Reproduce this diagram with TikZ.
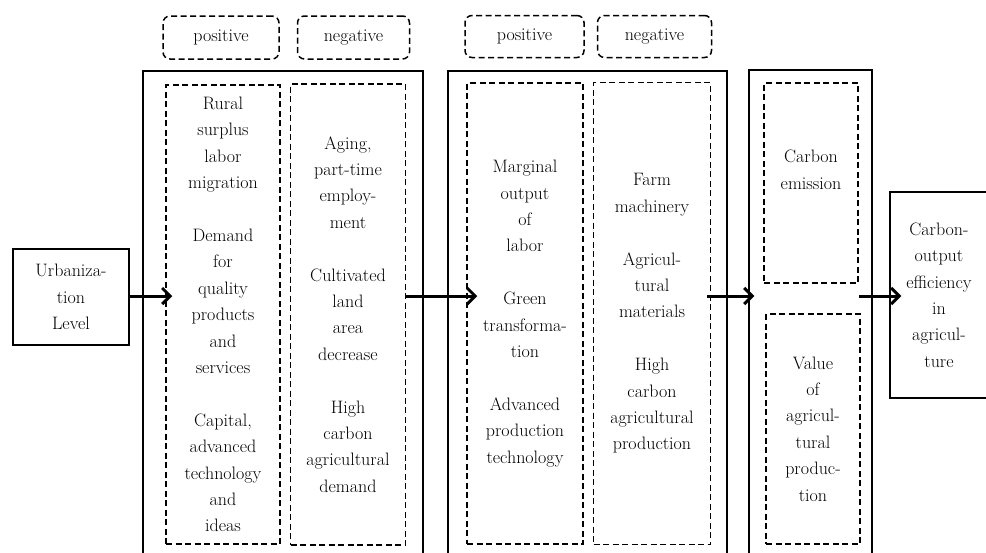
\documentclass[tikz,border=0pt]{standalone}
\usepackage{tikz}
\usetikzlibrary{positioning}
\usetikzlibrary{arrows.meta}

\begin{document}
\begin{tikzpicture}[x=1pt,y=-1pt,>={Straight Barb[length=8pt,width=16pt]},
                    node distance=10pt,
                    main node/.style={rectangle,draw,line width=1.5pt,inner sep=0pt,align=center,font=\fontsize{18}{26.4}\selectfont},
                    dash node/.style={main node,line width=1.5pt,dash pattern=on 6pt off 3.5pt},
                    tag node/.style={dash node,rounded corners=7pt},
                    link/.style={->,line width=3pt}]
      \path[use as bounding box] (0,0) rectangle (986,552);
      \clip (0,0) rectangle (986,552);
      \coordinate (mid) at (0,296);

      \node[main node,minimum width=116pt,minimum height=96pt] (1) at (71,297) {Urbaniza-\\tion\\Level};

      % first block
      \node[main node,minimum width=280pt,minimum height=529pt] (2) at (283,335.5) {};
      \node[dash node,minimum width=114pt,minimum height=459pt] (3) at (223,314.5)
        {Rural\\surplus\\labor\\migration\\[26.4pt]Demand\\for\\quality\\products\\and\\services\\[26.4pt]Capital,\\advanced\\technology\\and\\ideas};
      \node[dash node,minimum width=115pt,minimum height=461pt] (4) [right=9pt of 3]
        {Aging,\\part-time\\employ-\\ment\\[26.4pt]Cultivated\\land\\area\\decrease\\[26.4pt]High\\carbon\\agricultural\\demand};
      \node[tag node,minimum width=116pt,minimum height=43pt] (5) at (221,37.5) {positive};
      \node[tag node,minimum width=112pt,minimum height=43pt] (6) [right=17pt of 5] {negative};

      % second block
      \node[main node,minimum width=279pt,minimum height=529pt] (7) at (587.5,335.5) {};
      \node[dash node,minimum width=116pt,minimum height=461pt] (8) at (525,313.5)
        {Marginal\\output\\of\\labor\\[26.4pt]Green\\transforma-\\tion\\[26.4pt]Advanced\\production\\technology};
      \node[dash node,minimum width=117pt,minimum height=462pt] (9) [right=9pt of 8]
        {Farm\\machinery\\[26.4pt]Agricul-\\tural\\materials\\[26.4pt]High\\carbon\\agricultural\\production};
      \node[tag node,minimum width=119pt,minimum height=42pt] (10) at (524.5,36.5) {positive};
      \node[tag node,minimum width=114pt,minimum height=42pt] (11) [right=12pt of 10] {negative};

      % third block
      \node[main node,minimum width=123pt,minimum height=530pt] (12) at (810.5,335) {};
      \node[dash node,minimum width=94pt,minimum height=200pt] (13) at (811,183) {Carbon\\emission\\ \mbox{}};
      \node[dash node,minimum width=94pt,minimum height=230pt] (14) at (813,429)
        {Value\\of\\agricul-\\tural\\produc-\\tion};

      \node[main node,minimum width=98pt,minimum height=206pt] (15) at (939,295)
        {Carbon-\\output\\efficiency\\in\\agricul-\\ture};

      \draw[link,shorten >=-7pt] (1.east |- mid) -- (3.west |- mid);
      \draw[link,shorten >=-11pt] (4.east |- mid) -- (8.west |- mid);
      \draw[link,shorten <=-4pt,shorten >=-6pt] (9.east |- mid) -- (12.west |- mid);
      \draw[link,shorten >=-12pt] (13.east |- mid) -- (15.west |- mid);
    \end{tikzpicture}
\end{document}
